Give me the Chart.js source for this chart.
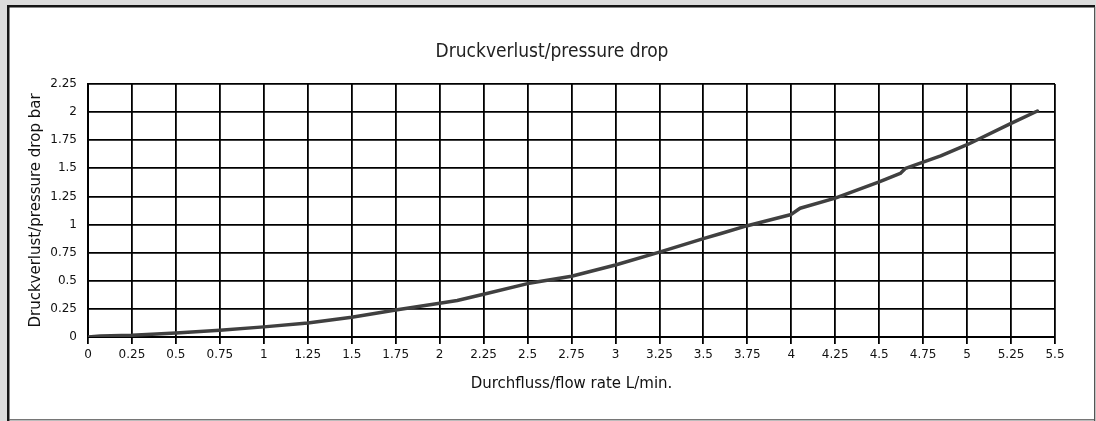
<!DOCTYPE html>
<html>
<head>
<meta charset="utf-8">
<script src="https://cdn.jsdelivr.net/npm/chart.js@4.4.1/dist/chart.umd.min.js"></script>
<style>
  html, body { margin: 0; padding: 0; background: #dcdcdc; }
  #wrap { width: 1096px; height: 421px; }
</style>
</head>
<body>
<div id="wrap"><canvas id="chart" width="1096" height="421"></canvas></div>
<script>
// Druckverlust-Kurve (pressure drop vs. flow rate)

const chartTitle = 'Druckverlust/pressure drop';
const xTitle = 'Durchfluss/flow rate L/min.';
const yTitle = 'Druckverlust/pressure drop bar';

// Kurve
const flowRate = [0, 0.07, 0.25, 0.5, 0.75, 1.0, 1.25, 1.5, 1.75, 2.0, 2.1, 2.25, 2.5, 2.75, 3.0,
  3.25, 3.5, 3.6, 3.75, 4.0, 4.05, 4.25, 4.5, 4.62, 4.65, 4.85, 5.0, 5.25, 5.4];
const pressureDrop = [0, 0.01, 0.015, 0.035, 0.06, 0.09, 0.125, 0.175, 0.24, 0.30, 0.325, 0.38, 0.475, 0.54, 0.64,
  0.755, 0.875, 0.92, 0.99, 1.09, 1.145, 1.235, 1.38, 1.455, 1.5, 1.61, 1.71, 1.9, 2.01];

// Achsenbeschriftung
const xTickValues = [0, 0.25, 0.5, 0.75, 1, 1.25, 1.5, 1.75, 2, 2.25, 2.5, 2.75, 3, 3.25, 3.5, 3.75,
  4, 4.25, 4.5, 4.75, 5, 5.25, 5.5];
const xTickLabels = ['0', '0.25', '0.5', '0.75', '1', '1.25', '1.5', '1.75', '2', '2.25', '2.5', '2.75',
  '3', '3.25', '3.5', '3.75', '4', '4.25', '4.5', '4.75', '5', '5.25', '5.5'];
const yTickValues = [0, 0.25, 0.5, 0.75, 1, 1.25, 1.5, 1.75, 2, 2.25];
const yTickLabels = ['0', '0.25', '0.5', '0.75', '1', '1.25', '1.5', '1.75', '2', '2.25'];

const tickFont = { family: '"DejaVu Sans", sans-serif', size: 12 };
const axisTitleFont = { family: '"DejaVu Sans", sans-serif', size: 15 };

// Rahmen + Titel (Titel ist auf den Rahmen zentriert, nicht auf die Plotfläche)
const framePlugin = {
  id: 'frame',
  beforeDraw(chart) {
    const ctx = chart.ctx;
    const w = chart.width, h = chart.height;
    ctx.save();
    ctx.fillStyle = '#dcdcdc';
    ctx.fillRect(0, 0, w, h);
    ctx.fillStyle = '#ffffff';
    ctx.fillRect(8, 6, w - 9, h - 6);
    ctx.fillStyle = '#151515';
    ctx.fillRect(7, 5, w - 8, 2.5);
    ctx.fillRect(7, 5, 2.5, h - 5);
    ctx.fillStyle = '#555555';
    ctx.fillRect(w - 2, 7, 1.2, h - 7);
    ctx.fillRect(9, h - 1.8, w - 10, 1.2);

    ctx.font = '19px "Liberation Sans Narrow", "DejaVu Sans Condensed", sans-serif';
    ctx.fillStyle = '#222222';
    ctx.textAlign = 'center';
    ctx.textBaseline = 'middle';
    ctx.fillText(chartTitle, 552, 52);
    ctx.restore();
  }
};

const ctx = document.getElementById('chart').getContext('2d');

new Chart(ctx, {
  type: 'line',
  data: {
    datasets: [{
      data: flowRate.map((x, i) => ({ x: x, y: pressureDrop[i] })),
      borderColor: '#404040',
      borderWidth: 3.5,
      pointRadius: 0,
      tension: 0,
      borderJoinStyle: 'round',
      borderCapStyle: 'round',
      fill: false
    }]
  },
  options: {
    responsive: false,
    animation: false,
    layout: { padding: { top: 84, right: 41, bottom: 24, left: 0 } },
    plugins: {
      legend: { display: false },
      tooltip: { enabled: false }
    },
    scales: {
      x: {
        type: 'linear',
        min: 0,
        max: 5.5,
        afterBuildTicks: scale => { scale.ticks = xTickValues.map(v => ({ value: v })); },
        afterFit: scale => { scale.height = 60; },
        ticks: {
          autoSkip: false,
          maxRotation: 0,
          padding: 4,
          color: '#111',
          font: tickFont,
          callback: (value, i) => xTickLabels[i]
        },
        grid: { color: '#000', lineWidth: 1.8, drawTicks: true, tickLength: 7 },
        border: { color: '#000', width: 2 },
        title: { display: true, text: xTitle, color: '#111', font: axisTitleFont, padding: { top: 0, bottom: 4 } }
      },
      y: {
        min: 0,
        max: 2.25,
        afterBuildTicks: scale => { scale.ticks = yTickValues.map(v => ({ value: v })); },
        afterFit: scale => { scale.width = 88; },
        ticks: {
          autoSkip: false,
          padding: 11,
          color: '#111',
          font: tickFont,
          callback: (value, i) => yTickLabels[i]
        },
        grid: { color: '#000', lineWidth: 1.8, drawTicks: false },
        border: { color: '#000', width: 2 },
        title: { display: true, text: yTitle, color: '#111', font: axisTitleFont, padding: { top: 27, bottom: 0 } }
      }
    }
  },
  plugins: [framePlugin]
});
</script>
</body>
</html>
